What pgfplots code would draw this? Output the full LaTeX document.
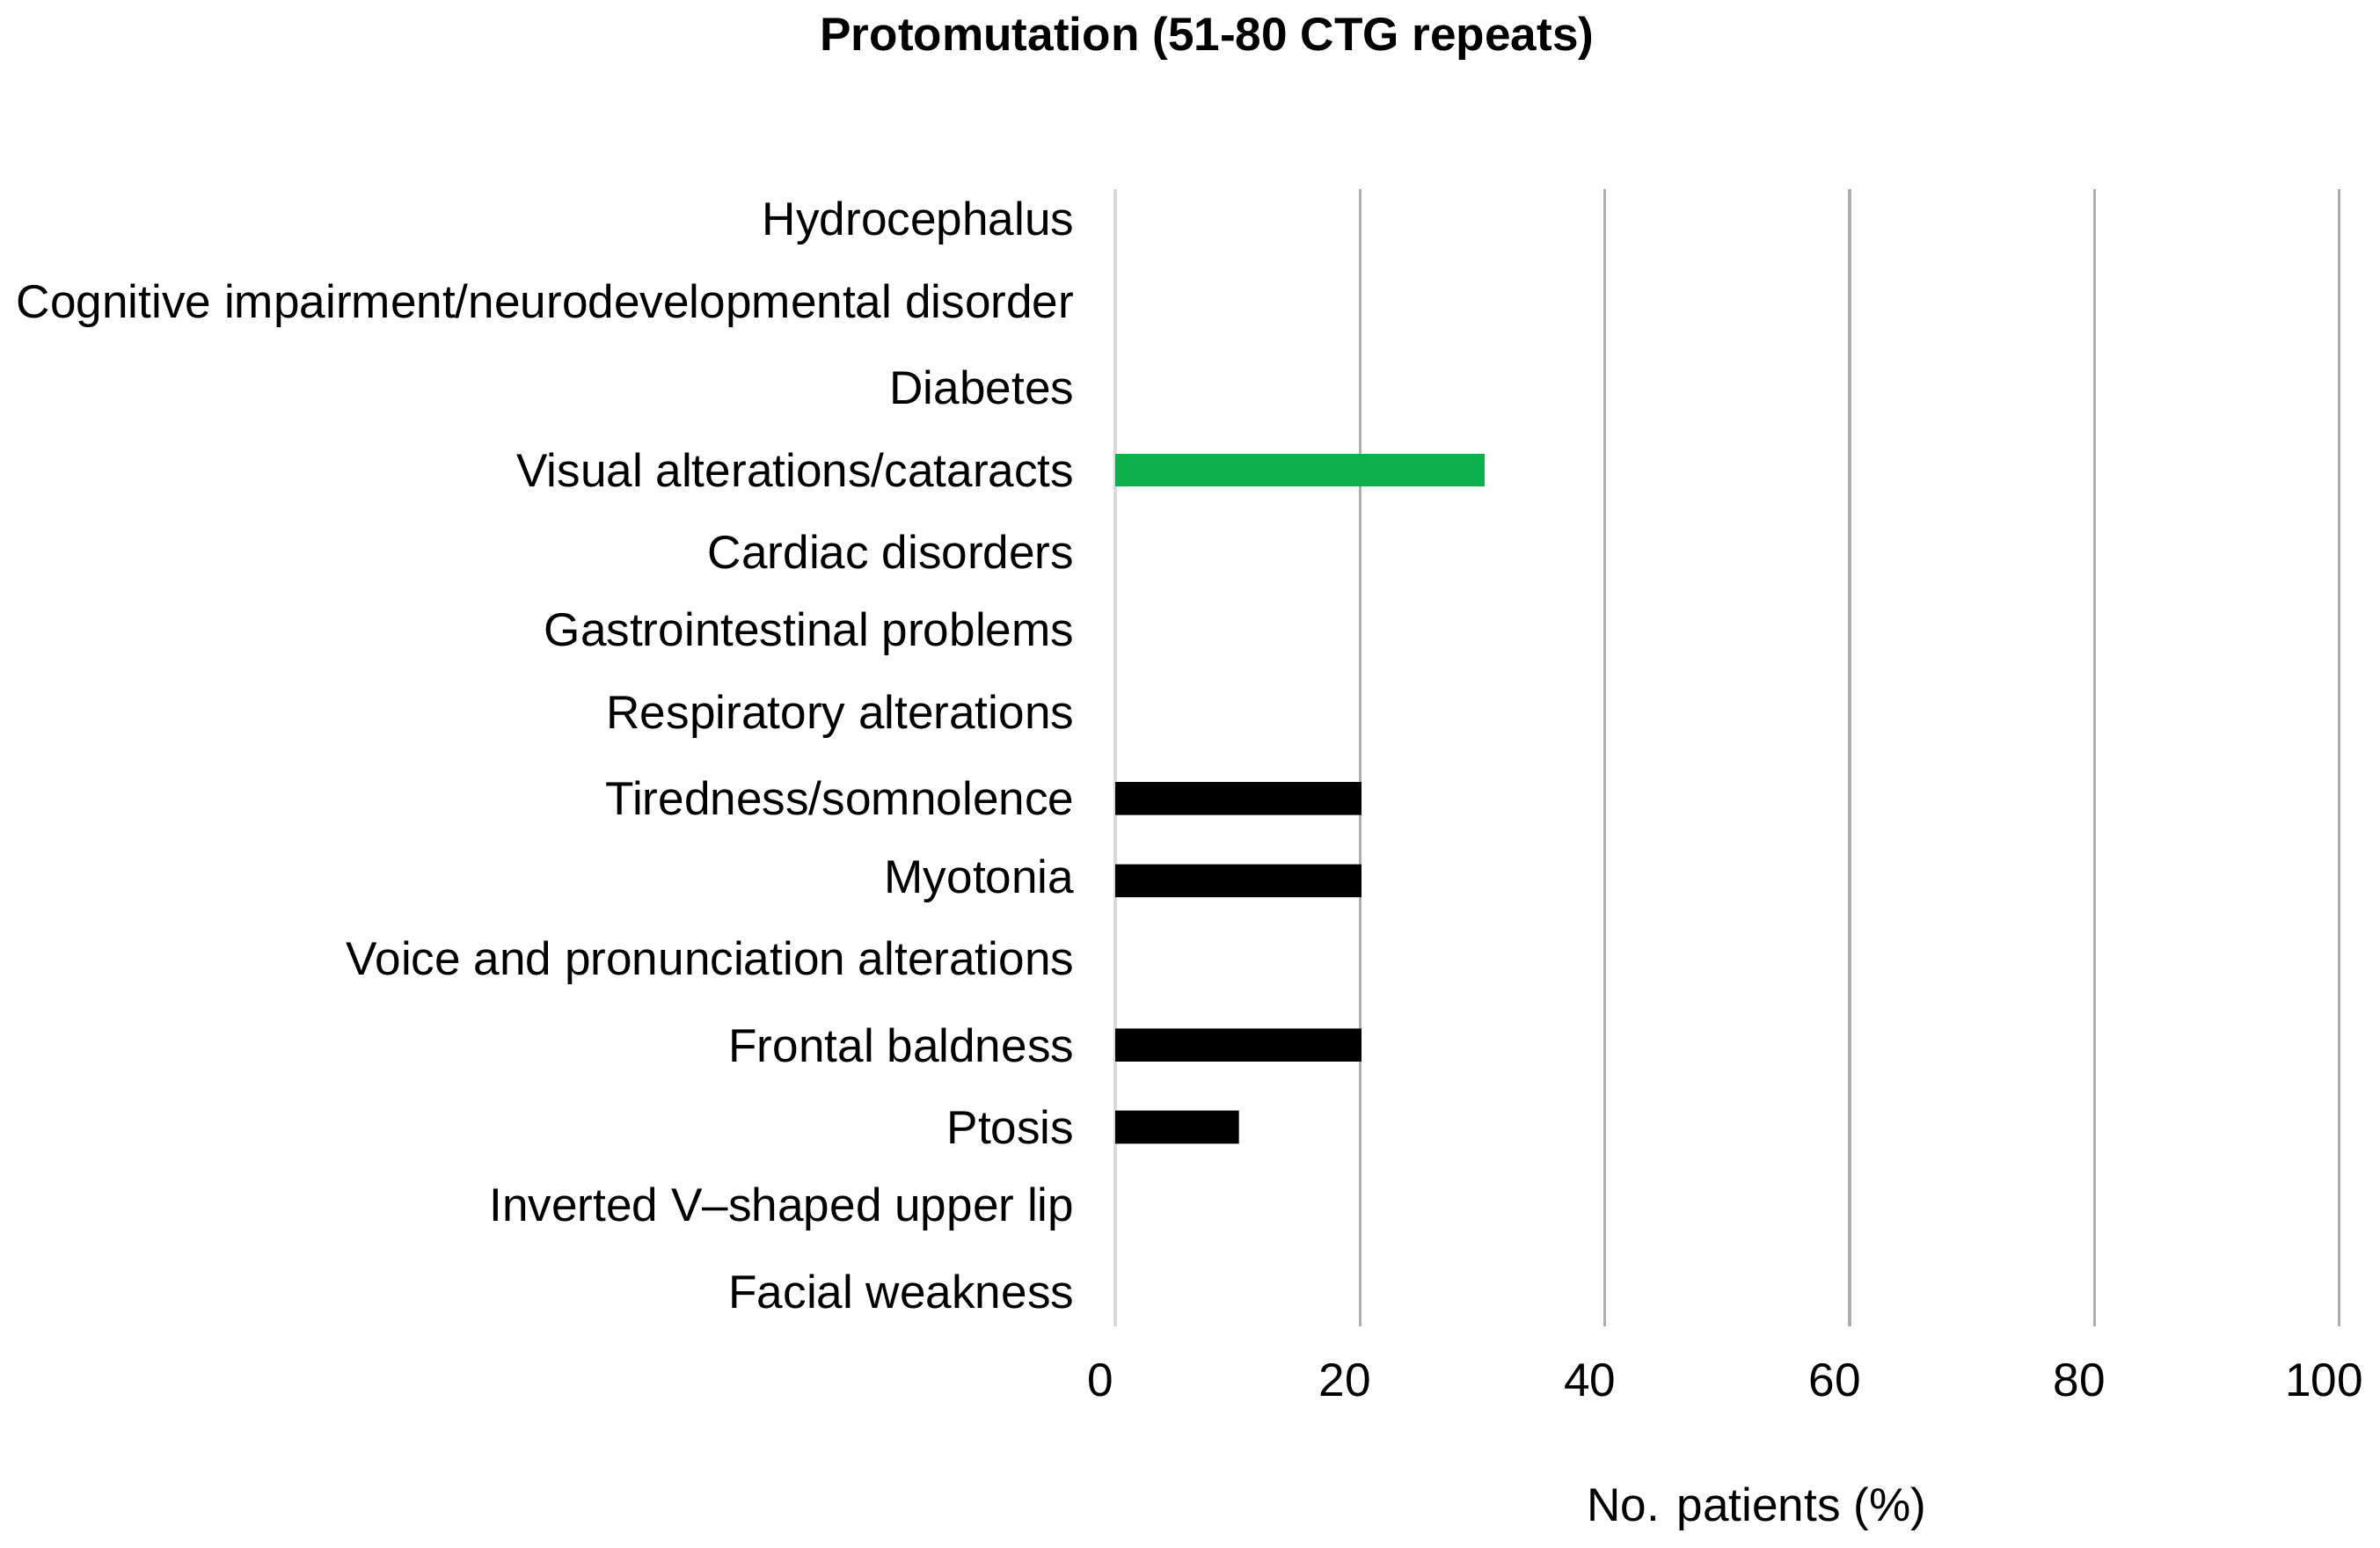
\documentclass[border=0pt]{standalone}
\usepackage{pgfplots}
\pgfplotsset{compat=1.18}
\usepackage{fontspec}
\setmainfont{Liberation Sans}
\definecolor{barg}{HTML}{0DB14B}
\definecolor{gridg}{HTML}{ADADAD}
\definecolor{zerog}{HTML}{D9D9D9}
\begin{document}
\begin{tikzpicture}[font=\fontsize{9.35}{11}\selectfont]
\begin{axis}[
  scale only axis, width=244.8pt, height=227.4pt,
  xbar, bar width=6.6pt, bar shift=0pt,
  xmin=0, xmax=100, ymin=-0.42, ymax=13.42, y dir=reverse,
  xtick={20,40,60,80,100},
  extra x ticks={0},
  extra x tick style={major grid style={zerog, line width=0.6pt}},
  xmajorgrids, major grid style={gridg, line width=0.6pt},
  axis line style={draw=none},
  major tick length=0pt,
  /pgf/number format/assume math mode=true,
  xticklabel style={yshift=-4pt, xshift=-3pt},
  ytick={0,...,13},
  yticklabels={Hydrocephalus,
    Cognitive impairment/neurodevelopmental disorder,
    Diabetes, Visual alterations/cataracts, Cardiac disorders,
    Gastrointestinal problems, Respiratory alterations,
    Tiredness/somnolence, Myotonia,
    Voice and pronunciation alterations, Frontal baldness, Ptosis,
    Inverted V–shaped upper lip, Facial weakness},
  yticklabel style={anchor=east, xshift=-4.7pt},
  title={\textbf{Protomutation (51-80 CTG repeats)}},
  title style={at={(axis description cs:0.075,1.106)}, anchor=center},
  xlabel={No. patients (\%)},
  xlabel style={at={(axis description cs:0.524,-0.161)}, anchor=center},
]
\addplot[fill=barg, draw=none] coordinates {(30.2,3)};
\addplot[fill=black, draw=none] coordinates {(20.1,7) (20.1,8) (20.1,10) (10.1,11)};
\end{axis}
\end{tikzpicture}
\end{document}
